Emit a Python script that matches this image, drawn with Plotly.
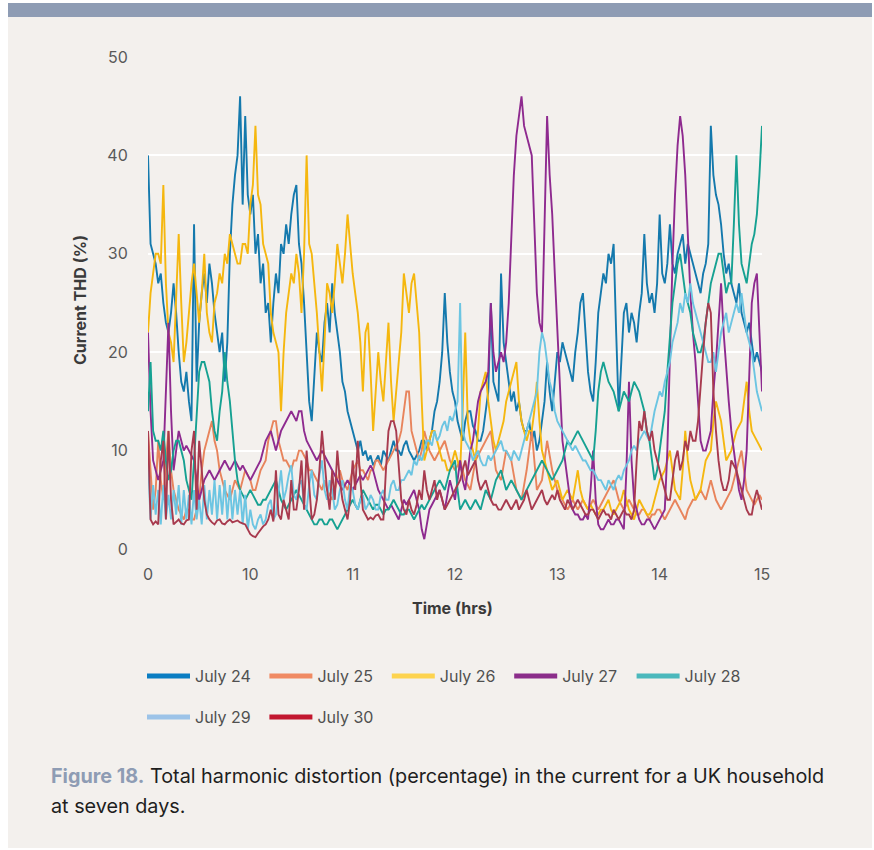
import numpy as np
import plotly.graph_objects as go

# Current THD (%) sampled every 1.5 minutes from 09:00 to 15:00
july_24 = [40, 31, 30, 29, 27, 28, 25, 23, 22, 24, 27, 24, 20, 17, 16, 18, 15, 13, 33, 17,
           23, 26, 28, 25, 29, 27, 24, 22, 20, 22, 17, 21, 30, 35, 38, 40, 46, 35, 44, 36,
           34, 36, 30, 32, 27, 29, 24, 25, 21, 25, 28, 26, 31, 30, 33, 31, 34, 36, 37, 31,
           29, 25, 20, 15, 13, 18, 22, 20, 19, 23, 25, 22, 27, 24, 22, 20, 17, 16, 14, 13,
           12, 11, 10, 11, 9.5, 10, 9, 9.5, 8.5, 9, 9.5, 8.5, 10, 9.5, 9, 10, 11, 10, 10, 9.5,
           10.5, 11, 10, 9.5, 9, 9.5, 10, 11, 11, 10, 11, 12, 14, 15, 17, 20, 26, 21, 18, 16,
           15, 13, 12, 11, 13, 14, 14, 12.5, 12, 11, 11, 12, 14, 16, 25, 17, 16, 15, 28, 21,
           19, 17, 15, 16, 14, 15, 13, 12, 12, 13, 11, 12, 10, 11, 13, 15, 19, 16, 14, 17,
           20, 19, 21, 20, 19, 18, 17, 20, 22, 25, 26, 22, 18, 16, 15, 19, 24, 26, 28, 27,
           30, 29, 31, 22, 14, 19, 24, 25, 22, 24, 23, 21, 24, 26, 32, 27, 25, 26, 24, 27,
           34, 28, 27, 29, 33, 29, 28, 30, 31, 32, 29, 31, 30, 29, 28, 27, 26, 28, 29, 31,
           43, 38, 36, 35, 33, 30, 28, 29, 27, 26, 25, 27, 24, 23, 22, 23, 21, 19, 20, 19, 18]

july_25 = [12, 8, 4, 6, 11, 7, 5, 9, 12, 8, 6, 5, 4, 3.5, 3, 4, 4, 3, 3, 4,
           5, 8, 10, 11, 12, 13, 11, 10, 8, 7, 6, 5.5, 5, 6, 7, 6.5, 6, 7, 8, 7.5,
           7, 6, 6, 7, 8, 8.5, 9, 11, 12, 13, 13, 11, 10, 9, 9, 8.5, 8, 9, 9, 10,
           10, 9.5, 9, 8, 8, 7.5, 7, 6.5, 6, 7, 6, 5.5, 5, 6, 7, 8, 7, 6.5, 6, 7,
           8, 8.5, 9, 8, 8, 7.5, 7, 8, 8, 9, 9, 8.5, 8, 8.5, 9, 9.5, 10, 10.5, 11, 12,
           14, 16, 16, 12, 11, 10, 9, 10, 12, 11, 10, 9.5, 9, 9.5, 10, 10.5, 11, 10, 9, 8.5,
           8, 8.5, 9, 8, 7, 6.5, 6, 7.5, 9, 9.5, 10, 10.5, 11, 11.5, 12, 10, 8, 7.5, 7, 8.5,
           10, 9.5, 9, 7.5, 6, 5.5, 5, 6.5, 8, 10, 12, 9, 6, 6.5, 7, 9, 11, 9.5, 8, 7,
           6, 5.5, 5, 4.5, 4, 4.5, 5, 4.5, 4, 4.5, 5, 4.5, 4, 4.5, 5, 4.5, 4, 4.5, 5, 5.5,
           6, 6.5, 7, 6, 5, 4.5, 4, 4.5, 5, 4.5, 4, 3.5, 3.5, 4, 4, 3.5, 3, 3.5, 3.5, 4,
           4, 3.5, 3, 3.5, 4, 4.5, 5, 4.5, 4, 3.5, 3, 4, 4.5, 5, 5, 5.5, 6, 5.5, 5, 6,
           7, 6, 5, 4.5, 4, 4.5, 5, 5.5, 6, 7, 8, 9, 10, 8, 6, 5.5, 5, 4.5, 5, 5.5, 5]

july_26 = [22, 26, 28, 30, 30, 29, 37, 27, 22, 21, 19, 25, 32, 25, 19, 21, 24, 27, 29, 26,
           23, 26, 30, 24, 22, 21, 25, 26, 28, 27, 30, 29, 32, 31, 30, 29, 29, 31, 31, 30,
           35, 37, 43, 36, 35, 31, 30, 29, 24, 22, 21, 20, 14, 20, 24, 26, 28, 27, 30, 28,
           24, 30, 40, 31, 30, 27, 24, 20, 16, 21, 27, 26, 24, 27, 31, 29, 27, 30, 34, 31,
           28, 26, 24, 21, 16, 22, 23, 18, 12, 16, 20, 17, 15, 19, 23, 17, 13, 16, 19, 22,
           28, 26, 24, 27, 28, 25, 22, 15, 9, 10, 11, 12, 12, 11, 10, 9, 9, 8, 8, 9,
           10, 9, 8, 14, 22, 13, 11, 10, 9, 12, 16, 17, 18, 15, 13, 11, 10, 11, 12, 13,
           15, 16, 17, 18, 19, 15, 13, 12, 11, 12, 12, 14, 17, 13, 10, 9, 8, 7, 6, 6.5,
           7, 6, 5, 5.5, 6, 5.5, 5, 6.5, 8, 6, 5, 4.5, 4, 4.5, 4, 3.5, 3.5, 4, 4, 4.5,
           5, 4, 3.5, 4, 4.5, 5, 6, 5, 4, 3.5, 3, 4, 5, 4.5, 4, 3.5, 3.5, 4, 5, 6,
           7, 7.5, 8, 9, 10, 8, 6, 5.5, 5, 8, 12, 9, 7, 6, 5, 5.5, 6, 7.5, 9, 9.5,
           10, 13, 15, 14, 13, 11, 9, 9.5, 10, 11, 12, 12.5, 13, 15, 17, 14, 12, 11.5, 11, 10.5, 10]

july_27 = [22, 14, 9, 8, 7, 8, 9, 16, 23, 14, 8, 10, 12, 11, 10, 10.5, 10, 9.5, 9, 7,
           5, 6, 7, 7.5, 8, 7.5, 7, 7.5, 8, 8.5, 9, 8.5, 8, 8.5, 9, 8.5, 8, 8.5, 8, 7.5,
           7, 7.5, 8, 8.5, 9, 10, 11, 11.5, 12, 11, 10, 11, 12, 12.5, 13, 13.5, 14, 13.5, 13, 14,
           14, 12, 11, 10.5, 10, 9.5, 9, 9.5, 10, 9.5, 9, 8.5, 8, 7.5, 7, 6.5, 6, 6.5, 7, 6.5,
           6, 6.5, 7, 7.5, 7, 7.5, 8, 8.5, 8, 7, 6, 5.5, 5, 4.5, 4, 4.5, 4, 3.5, 3, 4,
           5, 4.5, 5, 5.5, 6, 5, 4, 2, 1, 2.5, 4, 4.5, 5, 5.5, 6, 5, 4, 5.5, 7, 6,
           5, 7, 9, 7, 6, 8, 10, 11, 13, 15, 16, 16.5, 17, 18, 25, 20, 18, 19, 20, 19,
           21, 25, 32, 38, 42, 44, 46, 43, 42, 41, 40, 33, 26, 23, 22, 33, 44, 38, 34, 28,
           22, 16, 11, 9, 7, 5, 4, 3.5, 3.5, 3, 3, 3.5, 3, 6, 10, 5, 2.5, 2, 2, 2.5,
           3, 2.5, 2.5, 3, 3, 2.5, 2, 8, 17, 9, 5, 4, 3, 2.5, 2.5, 3, 3, 2.5, 2, 2.5,
           3, 3.5, 4, 10, 20, 29, 36, 41, 44, 42, 38, 32, 26, 22, 19, 15, 11, 10, 10, 11,
           12, 16, 19, 23, 27, 22, 18, 15, 12, 10, 8, 6, 5, 7, 10, 17, 25, 27, 28, 22, 16]

july_28 = [14, 19, 12, 11, 11, 10, 12, 9, 7, 8, 10, 11, 11, 10, 9, 7, 6, 5, 9, 13,
           18, 19, 19, 18, 17, 14, 12, 11, 14, 16, 20, 17, 15, 12, 9, 7, 6, 5.5, 5, 5.5,
           6, 5.5, 5, 4.5, 4.5, 5, 5, 5.5, 6, 6.5, 7, 6, 5, 4.5, 4, 4.5, 5, 5.5, 6, 5.5,
           5, 4.5, 4, 3.5, 3, 2.5, 2.5, 3, 3, 2.5, 2.5, 3, 3, 2.5, 2, 2.5, 3, 3.5, 4, 4.5,
           5, 4.5, 4, 5, 6, 5.5, 5, 4.5, 4, 4.5, 4.5, 4, 3.5, 4, 4, 4.5, 5, 4.5, 4, 3.5,
           3.5, 4, 4, 3.5, 3, 3.5, 4, 4.5, 4, 4.5, 5, 5.5, 6, 6.5, 7, 6.5, 6, 7, 8, 8.5,
           9, 6, 4, 4.5, 5, 4.5, 4, 4.5, 5, 4.5, 4, 5, 6, 5.5, 5, 6, 7, 7.5, 8, 7,
           6, 6.5, 7, 6.5, 6, 5.5, 5, 5.5, 6, 6.5, 7, 7.5, 8, 8.5, 9, 8.5, 8, 7.5, 7, 7.5,
           8, 8.5, 9, 10, 11, 10.5, 11, 11.5, 12, 11.5, 11, 10.5, 10, 9.5, 9, 12, 16, 18, 19, 18,
           17, 16.5, 16, 15, 14, 15, 16, 15.5, 15, 16, 17, 16.5, 16, 15, 14, 12, 11, 9, 7, 8,
           10, 12, 14, 18, 22, 25, 27, 29, 30, 28, 26, 25, 24, 22, 21, 20, 20, 21, 23, 25,
           27, 28, 29, 30, 30, 28, 26, 27, 27, 33, 40, 33, 29, 28, 27, 29, 31, 32, 34, 38, 43]

july_29 = [9, 3, 6.5, 3.5, 6, 2.5, 6.5, 3, 5.5, 3, 6, 3.5, 6.5, 2.5, 6, 3, 5.5, 2.5, 6, 3,
           5, 2.5, 6.5, 3, 6, 3.5, 7, 3, 6.5, 3.5, 7, 3, 6.5, 3, 6, 3.5, 6, 2.5, 5.5, 2,
           4, 2.5, 2, 3, 3.5, 2.5, 3, 4.5, 5, 3, 3.5, 6, 8, 5, 6, 7.5, 8.5, 5.5, 5, 6.5,
           7, 4.5, 4, 6.5, 8, 5.5, 5, 7.5, 9, 6, 5, 7, 6, 4, 4.5, 6, 7, 5, 4, 6.5,
           6, 4.5, 4, 5, 5.5, 4, 4.5, 5.5, 5, 4, 4, 5.5, 6, 5, 5, 6.5, 7, 6, 6, 7,
           7, 7.5, 8, 7.5, 9, 8.5, 9.5, 9, 10, 11, 11, 10.5, 12, 11, 11.5, 12.5, 13, 12, 13.5, 13,
           14, 15, 25, 12, 11, 10.5, 10, 9, 9.5, 10, 9, 8.5, 8.5, 9.5, 9, 9.5, 10, 10.5, 11, 10,
           10, 9.5, 9, 10, 9.5, 9, 10, 11, 12, 13, 14, 15, 16, 20, 22, 21, 19, 17, 16, 14,
           13, 12.5, 12, 11.5, 11, 10.5, 10, 10.5, 10, 9.5, 9, 9, 8.5, 8, 8, 7.5, 7, 7, 6.5, 6,
           7, 6.5, 6, 7, 7.5, 7, 8, 8.5, 9, 10, 10.5, 10, 11, 11.5, 12, 11.5, 11, 12.5, 14, 15,
           16, 15.5, 17, 18, 19, 21, 22, 23, 25, 24, 26, 25, 27, 25, 24, 23, 22, 21, 20, 19,
           19, 20, 18, 20, 22, 23, 24, 22, 23, 24, 25, 24, 26, 24, 22, 21, 20, 18, 16, 15, 14]

july_30 = [12, 3, 2.5, 2.8, 2.5, 9, 11, 3, 12, 5, 2.5, 2.8, 3, 2.6, 2.5, 2.9, 3, 10, 12, 4,
           11, 8, 5, 3.5, 3, 2.7, 2.5, 2.9, 3, 2.6, 2.5, 2.8, 3, 2.7, 2.8, 2.9, 2.7, 2.6, 2.5, 2,
           1.5, 1.3, 1.2, 1.6, 2, 2.3, 2.5, 3, 4, 2.8, 8, 3.5, 3, 5, 4, 3, 7, 4, 4, 6,
           9, 4, 10, 6, 3, 3.5, 5, 8, 12, 9, 6, 4, 8, 5, 10, 7, 5, 4, 3, 5,
           9, 6, 11, 7, 4, 3.5, 3, 3.2, 3, 3.4, 3.5, 3, 3, 8, 12, 13, 13, 12, 8, 5,
           4, 3.5, 5, 4, 3.5, 4.5, 6, 5, 8, 6, 5, 6, 7, 5, 6, 5, 4, 4.5, 5, 5.5,
           6, 6.5, 7, 8, 9, 7.5, 8, 8.5, 9, 7, 6, 6.5, 7, 6, 5, 4.5, 4.5, 4, 4, 4.5,
           5, 4.5, 4, 4.5, 5, 4, 4.5, 5, 6, 5, 4, 4.5, 5, 5.5, 6, 5, 4.5, 5, 5.5, 5,
           6, 5, 4.5, 4, 5, 4.5, 4, 4.5, 5, 4.5, 4, 3.5, 3.5, 4, 4, 3.5, 3, 3.5, 4, 3.5,
           3.5, 3, 4, 3.5, 3, 3.5, 4, 3.5, 3.5, 3, 4, 9, 13, 12, 14, 12, 11, 12, 10, 9,
           8, 7, 6, 5, 5, 7, 9, 10, 8, 9, 11, 10, 12, 11, 11, 13, 17, 20, 23, 25,
           24, 16, 12, 9, 7, 6, 6, 7, 9, 8.5, 8, 7, 6, 5, 4, 3.5, 3.5, 5, 6, 5, 4]

tick_vals = [9, 10, 11, 12, 13, 14, 15]
tick_text = ["0", "10", "11", "12", "13", "14", "15"]

day_names = ["July 24", "July 25", "July 26", "July 27", "July 28", "July 29", "July 30"]
day_values = [july_24, july_25, july_26, july_27, july_28, july_29, july_30]
line_colors = ["#1479AD", "#E8845C", "#F5B70F", "#8E2A8F", "#16A192", "#6CC5E2", "#A83A4E"]
key_colors = ["#0A7DC2", "#F08A63", "#FDD34E", "#8B2D8A", "#4BB8BC", "#9CC3E8", "#C2172F"]

BEIGE = "#F3F0ED"
FONT = "Inter"

fig = go.Figure()

for name, vals, col in zip(day_names, day_values, line_colors):
    hours = np.linspace(9, 15, len(vals))
    fig.add_trace(go.Scatter(
        x=hours, y=vals, mode="lines", name=name,
        line=dict(color=col, width=1.9), showlegend=False,
        hoverinfo="skip",
    ))

# Legend keys: first five days on the top row, the rest on the second row
for k, (name, col) in enumerate(zip(day_names, key_colors)):
    fig.add_trace(go.Scatter(
        x=[None], y=[None], mode="lines", name=name,
        line=dict(color=col, width=5),
        legend="legend" if k < 5 else "legend2",
    ))


# Pixel helpers relative to the plotting area (148..762 x 57..549)
def px_x(p):
    return (p - 148) / 614


def px_y(p):
    return (549 - p) / 492


legend_common = dict(
    orientation="h", xanchor="left", yanchor="middle",
    entrywidth=64.4, entrywidthmode="pixels", itemwidth=43,
    bgcolor="rgba(0,0,0,0)", borderwidth=0,
    font=dict(family=FONT, size=16, color="#505050"),
)

fig.update_layout(
    width=874, height=850, autosize=False,
    margin=dict(l=148, r=112, t=57, b=301),
    paper_bgcolor="white", plot_bgcolor=BEIGE,
    font=dict(family=FONT, color="#505050"),
    legend=dict(x=px_x(142), y=px_y(676), **legend_common),
    legend2=dict(x=px_x(142), y=px_y(717), **legend_common),
    shapes=[
        dict(type="rect", xref="paper", yref="paper", layer="below",
             x0=px_x(8), x1=px_x(872), y0=px_y(848), y1=px_y(16),
             fillcolor=BEIGE, line=dict(width=0)),
        dict(type="rect", xref="paper", yref="paper", layer="below",
             x0=px_x(8), x1=px_x(872), y0=px_y(17), y1=px_y(3),
             fillcolor="#8E9CB4", line=dict(width=0)),
    ],
    annotations=[
        dict(text="<b>Current THD (%)</b>", xref="paper", yref="paper",
             x=px_x(80), y=px_y(300), textangle=-90, showarrow=False,
             xanchor="center", yanchor="middle",
             font=dict(family=FONT, size=16, color="#3a3a3a")),
        dict(text="<b>Time (hrs)</b>", xref="paper", yref="paper",
             x=px_x(452), y=px_y(608), showarrow=False,
             xanchor="center", yanchor="middle",
             font=dict(family=FONT, size=16, color="#3a3a3a")),
        dict(text="<span style='color:#8E9CB4'><b>Figure 18.</b></span> "
                  "Total harmonic distortion (percentage) in the current for a UK household",
             xref="paper", yref="paper", x=px_x(49), y=px_y(776),
             showarrow=False, xanchor="left", yanchor="middle",
             font=dict(family=FONT, size=19.8, color="#1e1e1e")),
        dict(text="at seven days.",
             xref="paper", yref="paper", x=px_x(49), y=px_y(806),
             showarrow=False, xanchor="left", yanchor="middle",
             font=dict(family=FONT, size=19.8, color="#1e1e1e")),
    ],
)

fig.update_xaxes(
    range=[9, 15], tickvals=tick_vals, ticktext=tick_text,
    showgrid=False, zeroline=False, showline=False,
    ticks="outside", ticklen=11, tickcolor="rgba(0,0,0,0)",
    tickfont=dict(family=FONT, size=16, color="#595959"),
)
fig.update_yaxes(
    range=[0, 50], tickvals=[0, 10, 20, 30, 40, 50],
    showgrid=True, gridcolor="white", gridwidth=2,
    zeroline=False, showline=False,
    ticks="outside", ticklen=16, tickcolor="rgba(0,0,0,0)",
    tickfont=dict(family=FONT, size=16, color="#595959"),
)

fig.write_html("out.html")
